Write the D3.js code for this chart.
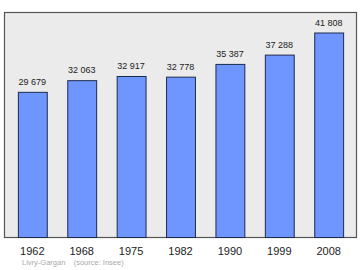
<!DOCTYPE html>
<html>
<head>
<meta charset="utf-8">
<script src="https://cdn.jsdelivr.net/npm/d3@7"></script>
<style>
  body { margin: 0; background: #fff; }
  svg { display: block; font-family: "Liberation Sans", Arial, sans-serif; }
</style>
</head>
<body>
<div id="chart"></div>
<script>
const years = ["1962", "1968", "1975", "1982", "1990", "1999", "2008"];
const population = [29679, 32063, 32917, 32778, 35387, 37288, 41808];
const sourceText = "Livry-Gargan    (source: Insee)";

const width = 360;
const height = 270;
const plot = { left: 4, top: 12, right: 356, bottom: 237 };

const svg = d3.select("#chart")
  .append("svg")
  .attr("width", width)
  .attr("height", height);

// plot frame
svg.append("rect")
  .attr("x", plot.left + 0.5)
  .attr("y", plot.top + 0.5)
  .attr("width", plot.right - plot.left)
  .attr("height", plot.bottom - plot.top)
  .attr("fill", "#ebebeb")
  .attr("stroke", "#555")
  .attr("stroke-width", 1.2);

const x = d3.scaleBand()
  .domain(years)
  .range([plot.left + 4, plot.right - 3])
  .paddingInner(0.415)
  .paddingOuter(0.2);

const y = d3.scaleLinear()
  .domain([0, 46000])
  .range([plot.bottom, plot.top]);

const fmt = v => d3.format(",")(v).replace(",", " ");

svg.append("g")
  .selectAll("rect")
  .data(population)
  .enter()
  .append("rect")
  .attr("x", (d, i) => x(years[i]) + 0.5)
  .attr("y", d => y(d) + 0.5)
  .attr("width", x.bandwidth())
  .attr("height", d => plot.bottom - y(d))
  .attr("fill", "#6f95ff")
  .attr("stroke", "#1c2b4d")
  .attr("stroke-width", 1);

// value labels
svg.append("g")
  .selectAll("text")
  .data(population)
  .enter()
  .append("text")
  .attr("x", (d, i) => x(years[i]) + x.bandwidth() / 2)
  .attr("y", d => y(d) - 7)
  .attr("text-anchor", "middle")
  .attr("font-size", "9px")
  .attr("fill", "#222")
  .text(fmt);

// year labels
const xAxis = svg.append("g")
  .attr("transform", `translate(0,${plot.bottom})`)
  .call(d3.axisBottom(x).tickSize(0).tickPadding(10));
xAxis.select(".domain").remove();
xAxis.selectAll("text")
  .attr("font-size", "11px")
  .attr("font-family", "Liberation Sans, Arial, sans-serif")
  .attr("fill", "#222");

svg.append("text")
  .attr("x", 22)
  .attr("y", 265)
  .attr("font-size", "7.5px")
  .attr("fill", "#aaa")
  .attr("xml:space", "preserve")
  .style("white-space", "pre")
  .text(sourceText);
</script>
</body>
</html>
